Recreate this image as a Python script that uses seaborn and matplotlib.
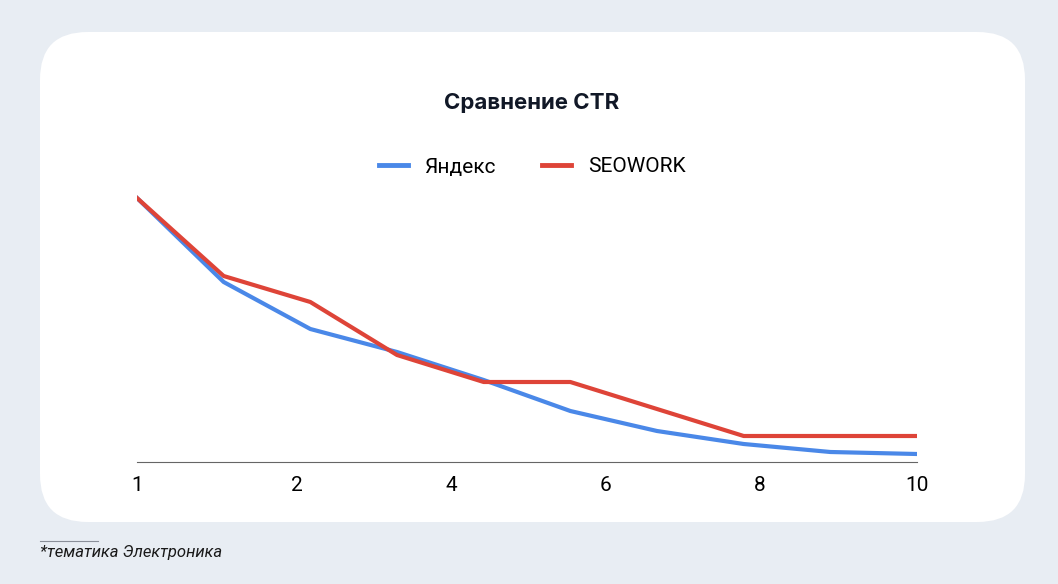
import matplotlib
matplotlib.use("Agg")
import matplotlib.pyplot as plt
import seaborn as sns
import pandas as pd
from matplotlib.patches import FancyBboxPatch
from matplotlib.lines import Line2D

positions = [1, 2, 3, 4, 5, 6, 7, 8, 9, 10]
yandex = [26.4, 18.0, 13.3, 11.0, 8.2, 5.1, 3.1, 1.8, 1.0, 0.8]
seowork = [26.4, 18.6, 16.0, 10.7, 8.0, 8.0, 5.3, 2.6, 2.6, 2.6]
tick_pos = [1, 2.84, 4.63, 6.4, 8.18, 10]
tick_labels = ["1", "2", "4", "6", "8", "10"]

W, H = 1058, 584
fig = plt.figure(figsize=(W/100, H/100), dpi=100)
fig.patch.set_facecolor("#e8edf3")
card = FancyBboxPatch((40/W, 1-522/H), 985/W, 490/H, boxstyle="round,pad=0,rounding_size=0.045",
                      transform=fig.transFigure, facecolor="white", edgecolor="none",
                      mutation_aspect=W/H, zorder=-5)
fig.patches.append(card)

ax = fig.add_axes([137/W, 1-462/H, 780/W, 292/H])
ax.set_zorder(2)
ax.set_facecolor("none")
df = pd.DataFrame({"x": positions*2, "y": yandex+seowork,
                   "s": ["Яндекс"]*10 + ["SEOWORK"]*10})
sns.lineplot(data=df, x="x", y="y", hue="s", palette={"Яндекс": "#4a88e8", "SEOWORK": "#de4438"},
             linewidth=3, ax=ax, legend=False)
ax.set_xlim(1, 10)
ax.set_ylim(0, 29.2)
ax.set_yticks([])
ax.set_xticks(tick_pos)
ax.set_xticklabels(tick_labels, fontsize=15, family="Roboto")
ax.tick_params(axis="x", length=0, pad=10)
ax.set_xlabel(""); ax.set_ylabel("")
for s in ["top", "right", "left"]:
    ax.spines[s].set_visible(False)
ax.spines["bottom"].set_color("#666666")

fig.text(532/W, 1-103/H, "Сравнение CTR", ha="center", va="center", fontsize=16,
         fontweight="bold", family="Inter", color="#111827")
handles = [Line2D([], [], color="#4a88e8", lw=3.5), Line2D([], [], color="#de4438", lw=3.5)]
fig.legend(handles, ["Яндекс", "SEOWORK"], loc="center", bbox_to_anchor=(532/W, 1-167/H),
           ncol=2, frameon=False, handlelength=1.4, columnspacing=2.2,
           prop={"family": "Roboto", "size": 15})
fig.add_artist(Line2D([40/W, 98/W], [1-541/H, 1-541/H], color="#8a8f99", lw=0.8))
fig.text(40/W, 1-552/H, "*тематика Электроника", ha="left", va="center", fontsize=12,
         style="italic", family="Roboto", color="#1a1a1a")
fig.savefig("out.png", dpi=100)
